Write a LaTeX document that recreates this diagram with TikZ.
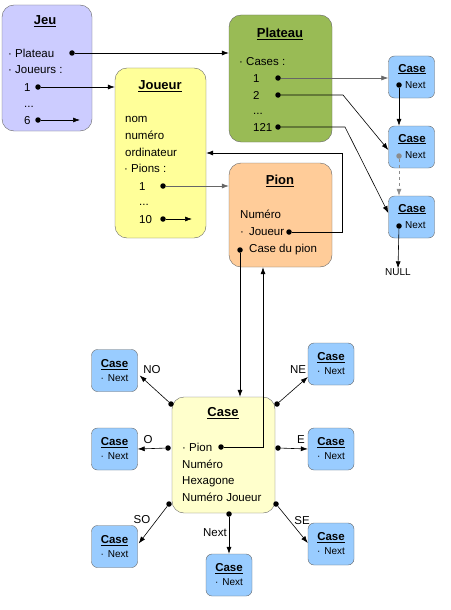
\documentclass[tikz,border=0pt]{standalone}
\usepackage{fontspec}
\setmainfont{Liberation Sans}
\usetikzlibrary{arrows.meta}
\definecolor{jeufill}{HTML}{CCCCFF}
\definecolor{platfill}{HTML}{99BB55}
\definecolor{jouefill}{HTML}{FFFF99}
\definecolor{pionfill}{HTML}{FFCC99}
\definecolor{casefill}{HTML}{FFFFCC}
\definecolor{caseblue}{HTML}{99CCFF}
\begin{document}
\begin{tikzpicture}[x=1pt,y=-1pt,font=\fontsize{11.5}{13}\selectfont,
  box/.style={draw=black!60,rounded corners=12pt,inner sep=0pt},
  title/.style={anchor=base,inner sep=0pt,yshift=-4.5pt,font=\fontsize{13}{15}\selectfont\bfseries},
  txt/.style={anchor=base west,inner sep=0pt,yshift=-4pt},
  pt/.style={circle,fill=black,inner sep=0pt,minimum size=5.5pt},
  casebox/.style={draw=black!60,fill=caseblue,rounded corners=6pt,minimum width=46pt,minimum height=42pt,inner sep=0pt},
  smalltitle/.style={anchor=base,inner sep=0pt,yshift=-4pt,font=\fontsize{11.5}{13}\selectfont\bfseries},
  smalltxt/.style={anchor=base west,inner sep=0pt,yshift=-3.5pt,font=\fontsize{10}{12}\selectfont},
  lbl/.style={inner sep=0pt},
  link/.style={-{Latex[length=7pt,width=5pt]},line width=0.6pt}]
\useasboundingbox (0,0) rectangle (450,610);

\node [box,fill=jeufill,minimum width=90pt,minimum height=126pt] (jeu) at (47,68) {};
\node [title] at (45,20) {\underline{Jeu}};
\node [txt] at (8,53) {· Plateau};
\node [txt] at (8,70) {· Joueurs :};
\node [txt] at (24,87) {1};
\node [txt] at (24,103) {...};
\node [txt] at (24,120) {6};
\node [pt] (jplat) at (72,53) {};
\node [pt] (j1) at (38,87) {};
\node [pt] (j6) at (38,120) {};
\coordinate (j6end) at (80,120);

\node [box,fill=platfill,minimum width=103pt,minimum height=127pt] (plat) at (280.5,78.5) {};
\node [title] at (280,33) {\underline{Plateau}};
\node [txt] at (239,62) {· Cases :};
\node [txt] at (253,78) {1};
\node [txt] at (253,95) {2};
\node [txt] at (253,110) {...};
\node [txt] at (253,127) {121};
\node [pt] (p1) at (278,78) {};
\node [pt] (p2) at (278,95) {};
\node [pt] (p121) at (278,127) {};

\node [box,fill=jouefill,minimum width=91pt,minimum height=170pt] (jou) at (160.5,153) {};
\node [title] at (160,85) {\underline{Joueur}};
\node [txt] at (125,118) {nom};
\node [txt] at (125,135) {numéro};
\node [txt] at (125,152) {ordinateur};
\node [txt] at (124,168) {· Pions :};
\node [txt] at (139,186) {1};
\node [txt] at (139,201) {...};
\node [txt] at (139,219) {10};
\node [pt] (jo1) at (163,186) {};
\node [pt] (jo10) at (163,219) {};
\coordinate (jo10end) at (192,219);

\node [box,fill=pionfill,minimum width=103pt,minimum height=104pt] (pion) at (280.5,215) {};
\node [title] at (280,180) {\underline{Pion}};
\node [txt] at (240,214) {Numéro};
\node [txt] at (240,231) {·\hspace{5pt}Joueur};
\node [txt] at (249,248) {Case du pion};
\node [pt] (pjou) at (289,232) {};
\node [pt] (pcase) at (240,250) {};

\node [box,fill=casefill,minimum width=103pt,minimum height=116pt] (cas) at (223.5,455) {};
\node [title] at (223,412) {\underline{Case}};
\node [txt] at (182,447) {· Pion};
\node [txt] at (182,464) {Numéro};
\node [txt] at (182,480) {Hexagone};
\node [txt] at (182,497) {Numéro Joueur};
\node [pt] (cpion) at (221,447) {};

\node [casebox] (l1) at (411.5,77) {};
\node [smalltitle] at (412,68) {\underline{Case}};
\node [smalltxt] at (405,85) {Next};
\node [pt] (ln1) at (399,85) {};
\node [casebox] (l2) at (411.5,147) {};
\node [smalltitle] at (412,138) {\underline{Case}};
\node [smalltxt] at (405,155) {Next};
\node [pt,fill=black!45] (ln2) at (399,156) {};
\node [casebox] (l3) at (411.5,217) {};
\node [smalltitle] at (412,208) {\underline{Case}};
\node [smalltxt] at (405,225) {Next};
\node [pt] (ln3) at (399,226) {};
\node [lbl,font=\fontsize{10}{12}\selectfont] (null) at (398,272) {NULL};

\draw [link] (jplat) -- (jplat -| plat.west);
\draw [link] (j1) -- (j1 -| jou.west);
\draw [link] (j6) -- (j6end);
\draw [link,black!60] (jo1) -- (jo1 -| pion.west);
\draw [link] (jo10) -- (jo10end);
\draw [link,black!60] (p1) -- (p1 -| l1.west);
\draw [link] (p2) -- (343,95) -- ([yshift=-3pt]l2.west);
\draw [link] (p121) -- (345,127) -- ([yshift=4pt]l3.west);
\draw [link] (ln1) -- (ln1 |- l2.north);
\draw [link,black!45,dashed] (ln2) -- (ln2 |- l3.north);
\draw [link] (ln3) -- (null.north);
\draw [link] (pjou) -| (342,153) -- (jou.east |- 0,153);
\draw [link] (pcase) -- (pcase |- cas.north);
\coordinate (up) at (263,447);
\draw [link] (cpion) -- (up) -- (up |- pion.south);

\node [casebox,align=center] (vNO) at (114.5,370.5) {{\bfseries\underline{Case}}\\[1pt]{\fontsize{10}{12}\selectfont·\hspace{4pt}Next}};
\node [casebox,align=center] (vNE) at (331,364) {{\bfseries\underline{Case}}\\[1pt]{\fontsize{10}{12}\selectfont·\hspace{4pt}Next}};
\node [casebox,align=center] (vO) at (114.5,449) {{\bfseries\underline{Case}}\\[1pt]{\fontsize{10}{12}\selectfont·\hspace{4pt}Next}};
\node [casebox,align=center] (vE) at (331,449) {{\bfseries\underline{Case}}\\[1pt]{\fontsize{10}{12}\selectfont·\hspace{4pt}Next}};
\node [casebox,align=center] (vSO) at (114.5,546.5) {{\bfseries\underline{Case}}\\[1pt]{\fontsize{10}{12}\selectfont·\hspace{4pt}Next}};
\node [casebox,align=center] (vSE) at (331,544) {{\bfseries\underline{Case}}\\[1pt]{\fontsize{10}{12}\selectfont·\hspace{4pt}Next}};
\node [casebox,align=center] (vNext) at (229,575) {{\bfseries\underline{Case}}\\[1pt]{\fontsize{10}{12}\selectfont·\hspace{4pt}Next}};

\node [pt] (dNO) at (171,404) {};
\node [pt] (dNE) at (277,404) {};
\node [pt] (dO) at (168,448) {};
\node [pt] (dE) at (278,448) {};
\node [pt] (dSO) at (169,504) {};
\node [pt] (dSE) at (276,504) {};
\node [pt] (dNext) at (229,514) {};

\draw [link] (dNO) -- ([yshift=-5pt,xshift=2pt]vNO.east);
\draw [link] (dNE) -- ([yshift=-13pt]vNE.west);
\draw [link] (dO) -- (vO.east);
\draw [link] (dE) -- (vE.west);
\draw [link] (dSO) -- ([yshift=3pt,xshift=1pt]vSO.east);
\draw [link] (dSE) -- ([yshift=1pt]vSE.west);
\draw [link] (dNext) -- (vNext.north);

\node [lbl] at (152,370) {NO};
\node [lbl] at (298,370) {NE};
\node [lbl] at (148,440) {O};
\node [lbl] at (301,440) {E};
\node [lbl] at (142,520) {SO};
\node [lbl] at (302,521) {SE};
\node [lbl] at (215,533) {Next};
\end{tikzpicture}
\end{document}
